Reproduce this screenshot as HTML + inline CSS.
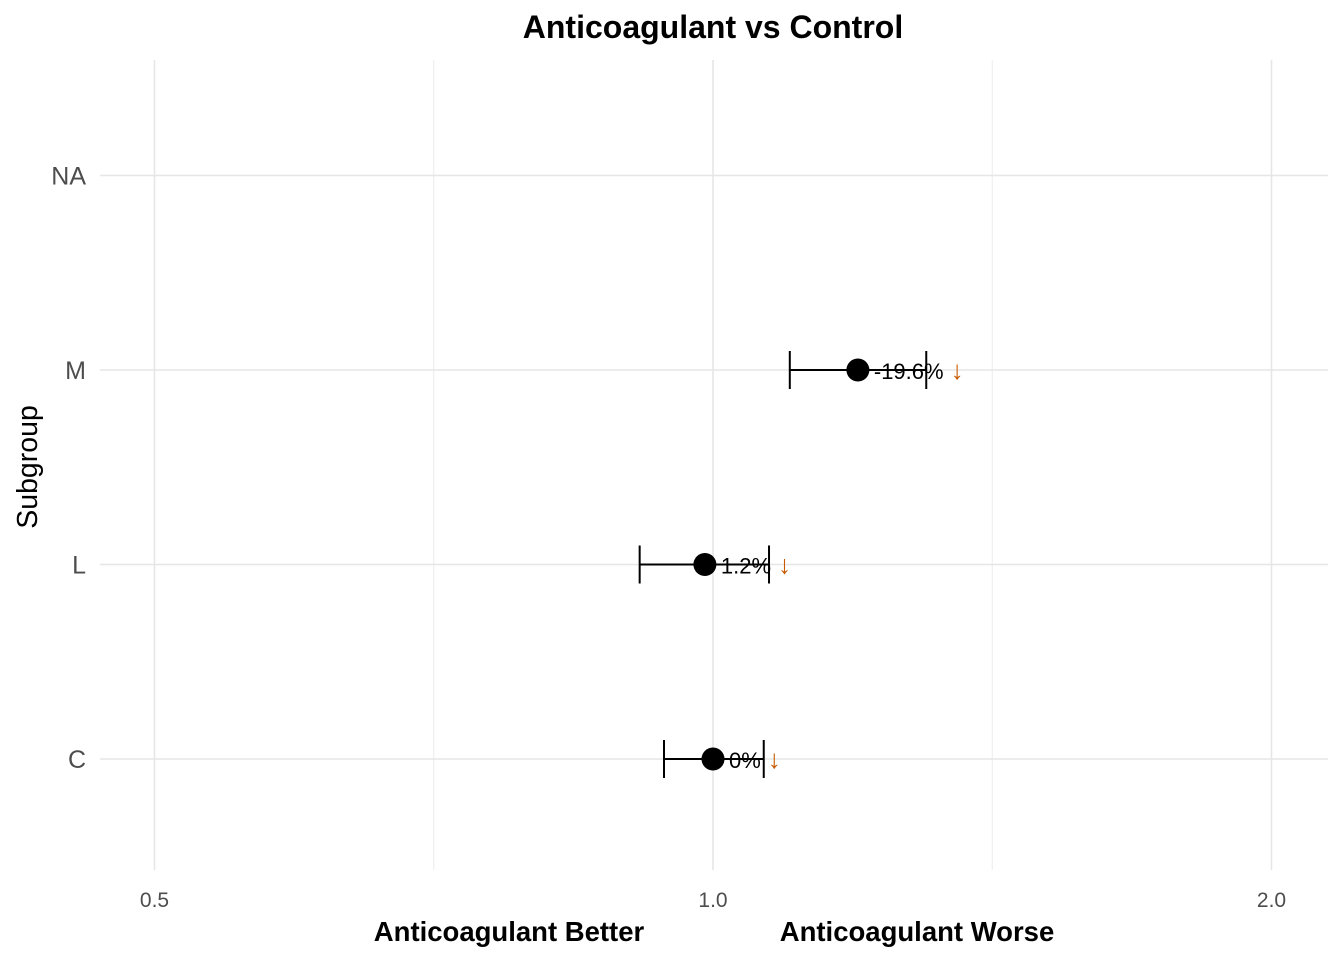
<!DOCTYPE html>
<html><head><meta charset="utf-8">
<style>
html,body{margin:0;padding:0;background:#fff;}
svg{display:block;font-family:"Liberation Sans",Arial,sans-serif;}
</style></head>
<body>
<svg id="chart" width="1344" height="960" viewBox="0 0 1344 960" xmlns="http://www.w3.org/2000/svg">
<text x="713" y="38" text-anchor="middle" font-size="32" font-weight="bold" fill="#000">Anticoagulant vs Control</text>
<g id="grid"></g>
<g id="marks"></g>
<text transform="translate(37,467) rotate(-90)" text-anchor="middle" font-size="28.5" fill="#000">Subgroup</text>
<text x="509" y="941" text-anchor="middle" font-size="27.5" font-weight="bold" fill="#000">Anticoagulant Better</text>
<text x="917" y="941" text-anchor="middle" font-size="27.5" font-weight="bold" fill="#000">Anticoagulant Worse</text>
</svg>
<script>
const categories = ["C","L","M","NA"];
const estimates = [1.0, 0.990, 1.197, null];
const lowerCI = [0.941, 0.913, 1.100, null];
const upperCI = [1.065, 1.072, 1.303, null];
const labels = ["0%", "1.2%", "-19.6%", null];
const xTicks = [0.5, 1.0, 2.0];
const xTickLabels = ["0.5", "1.0", "2.0"];
const xMinor = [0.7071, 1.4142];

const NS = "http://www.w3.org/2000/svg";
const X = v => 713 + Math.log2(v) * 558.5;
const Y = i => 759 - i * 194.5;
const grid = document.getElementById('grid');
const marks = document.getElementById('marks');
function mk(tag, attrs, parent){ const e=document.createElementNS(NS,tag); for(const k in attrs) e.setAttribute(k,attrs[k]); parent.appendChild(e); return e; }

xMinor.forEach(v=>{
  const l=mk('line',{x1:X(v),x2:X(v),y1:60,y2:870,stroke:'#ececec','stroke-width':1},grid);
  
  
});
xTicks.forEach((v,i)=>{
  const l=mk('line',{x1:X(v),x2:X(v),y1:60,y2:870,stroke:'#e6e6e6','stroke-width':1.6},grid);
  
  
  const t=mk('text',{x:X(v),y:907,'text-anchor':'middle','font-size':21,fill:'#4d4d4d'},grid);
  t.textContent=xTickLabels[i];
  
  
});
categories.forEach((c,i)=>{
  const l=mk('line',{x1:100,x2:1328,y1:Y(i),y2:Y(i),stroke:'#e6e6e6','stroke-width':1.6},grid);
  
  
  const t=mk('text',{x:86,y:Y(i)+9,'text-anchor':'end','font-size':25,fill:'#4d4d4d'},grid);
  t.textContent=c;
  
  
});
categories.forEach((c,i)=>{
  if(estimates[i]==null) return;
  const y=Y(i), lo=X(lowerCI[i]), hi=X(upperCI[i]), p=X(estimates[i]);
  const g=mk('g',{},marks);
  
  
  const ci=mk('line',{x1:lo,x2:hi,y1:y,y2:y,stroke:'#000','stroke-width':2},g);
  
  
  [lo,hi].forEach(x=>{
    const cap=mk('line',{x1:x,x2:x,y1:y-19,y2:y+19,stroke:'#000','stroke-width':2},g);
    
    
  });
  const pt=mk('circle',{cx:p,cy:y,r:11.5,fill:'#000'},g);
  
  
  const t=mk('text',{x:p+16,y:y+9,'font-size':22,fill:'#000'},g);
  
  
  t.appendChild(document.createTextNode(labels[i]));
  const a=mk('tspan',{dx:7,fill:'#C85A00','font-size':26},t);
  a.textContent='↓';
});
</script>
</body></html>
